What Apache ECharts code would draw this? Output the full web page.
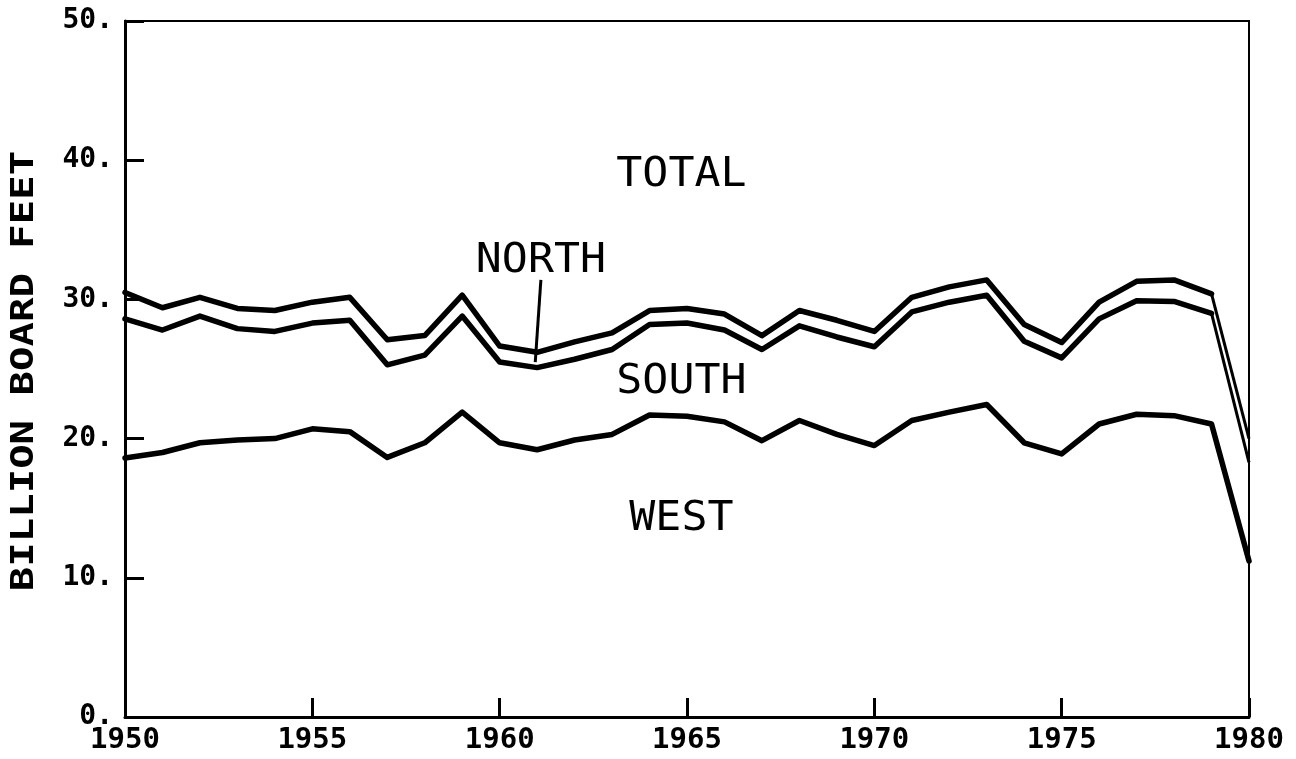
<!DOCTYPE html>
<html>
<head>
<meta charset="utf-8">
<style>
  html, body { margin: 0; padding: 0; background: #fff; }
  #charts { width: 1296px; height: 759px; }
</style>
<script src="https://cdn.jsdelivr.net/npm/echarts@6.0.0/dist/echarts.min.js"></script>
</head>
<body>
<div id="charts"></div>
<script>
// years on the x axis
const years = [1950, 1951, 1952, 1953, 1954, 1955, 1956, 1957, 1958, 1959, 1960,
  1961, 1962, 1963, 1964, 1965, 1966, 1967, 1968, 1969, 1970,
  1971, 1972, 1973, 1974, 1975, 1976, 1977, 1978, 1979, 1980]
// top line = north + south + west
const totalLine = [30.5, 29.4, 30.15, 29.35, 29.2, 29.8, 30.15, 27.1, 27.4, 30.3, 26.65,
  26.2, 26.95, 27.6, 29.2, 29.35, 28.95, 27.4, 29.2, 28.5, 27.7,
  30.15, 30.9, 31.4, 28.2, 26.9, 29.8, 31.3, 31.4, 30.4, 20.0]
// middle line = south + west
const southLine = [28.6, 27.8, 28.8, 27.9, 27.7, 28.3, 28.5, 25.3, 26.0, 28.8, 25.5,
  25.1, 25.7, 26.4, 28.2, 28.3, 27.8, 26.4, 28.1, 27.3, 26.6,
  29.1, 29.8, 30.3, 27.0, 25.8, 28.6, 29.9, 29.85, 29.0, 18.3]
// bottom line = west
const westLine = [18.6, 19.0, 19.7, 19.9, 20.0, 20.7, 20.5, 18.65, 19.7, 21.9, 19.7,
  19.2, 19.9, 20.3, 21.7, 21.6, 21.2, 19.85, 21.3, 20.3, 19.5,
  21.3, 21.9, 22.45, 19.7, 18.9, 21.05, 21.75, 21.65, 21.05, 11.2]

// axis ranges
const xRange = [1950, 1980, 5]
const yRange = [0, 50, 10]
const yTitle = 'BILLION BOARD FEET'

// region labels, placed in data coords
const regionNames = ['TOTAL', 'NORTH', 'SOUTH', 'WEST']
const regionYears = [1964.85, 1961.1, 1964.85, 1964.85]
const regionValues = [38.9, 32.7, 24.0, 14.15]
// pointer from NORTH label to the band
const pointerYears = [1961.1, 1960.95]
const pointerValues = [31.4, 25.5]

const myChart = echarts.init(document.getElementById('charts'))
const font = 'DejaVu Sans Mono'

const pairs = (xs, ys) => xs.map((x, i) => [x, ys[i]])

let option = {
  animation: false,
  backgroundColor: '#fff',
  grid: {
    left: 125,
    right: 47,
    top: 21,
    bottom: 42,
    show: true,
    borderColor: '#000',
    borderWidth: 2
  },
  xAxis: {
    type: 'value',
    min: xRange[0],
    max: xRange[1],
    interval: xRange[2],
    axisLine: { lineStyle: { color: '#000', width: 3 } },
    axisTick: { inside: true, length: 19, lineStyle: { color: '#000', width: 3 } },
    axisLabel: {
      color: '#000',
      fontFamily: font,
      fontWeight: 'bold',
      fontSize: 29,
      margin: 9,
      formatter: (v) => String(v)
    },
    splitLine: { show: false }
  },
  yAxis: {
    type: 'value',
    min: yRange[0],
    max: yRange[1],
    interval: yRange[2],
    axisLine: { show: true, lineStyle: { color: '#000', width: 3 } },
    axisTick: { show: true, inside: true, length: 19, lineStyle: { color: '#000', width: 3 } },
    axisLabel: {
      color: '#000',
      fontFamily: font,
      fontWeight: 'bold',
      fontSize: 28,
      margin: 12,
      formatter: (v) => v + '.'
    },
    splitLine: { show: false }
  },
  series: []
}

const lines = [totalLine, southLine, westLine]
for (let i = 0; i < lines.length; i++) {
  // the last drop of the two upper lines is drawn thinner in the original
  const full = pairs(years, lines[i])
  const thinTail = i < 2
  option.series.push({
    type: 'line',
    data: thinTail ? full.slice(0, full.length - 1) : full,
    symbol: 'none',
    lineStyle: { color: '#000', width: 5.5, join: 'round', cap: 'round' },
    silent: true
  })
  if (thinTail) {
    option.series.push({
      type: 'line',
      data: full.slice(full.length - 2),
      symbol: 'none',
      lineStyle: { color: '#000', width: 3 },
      silent: true
    })
  }
}
option.series.push({
  type: 'line',
  data: pairs(pointerYears, pointerValues),
  symbol: 'none',
  lineStyle: { color: '#000', width: 3 },
  silent: true
})

myChart.setOption(option)

// texts: y title and band names
let graphics = [{
  type: 'text',
  x: 25,
  y: 371,
  rotation: Math.PI / 2,
  scaleX: 1.27,
  style: {
    text: yTitle,
    font: 'bold 32px "' + font + '"',
    fill: '#000',
    align: 'center',
    verticalAlign: 'middle'
  }
}]
for (let i = 0; i < regionNames.length; i++) {
  const p = myChart.convertToPixel({ gridIndex: 0 }, [regionYears[i], regionValues[i]])
  graphics.push({
    type: 'text',
    x: p[0],
    y: p[1],
    scaleX: 1.08,
    style: {
      text: regionNames[i],
      font: '40px "' + font + '"',
      fill: '#000',
      align: 'center',
      verticalAlign: 'middle'
    }
  })
}
myChart.setOption({ graphic: graphics })
</script>
</body>
</html>
